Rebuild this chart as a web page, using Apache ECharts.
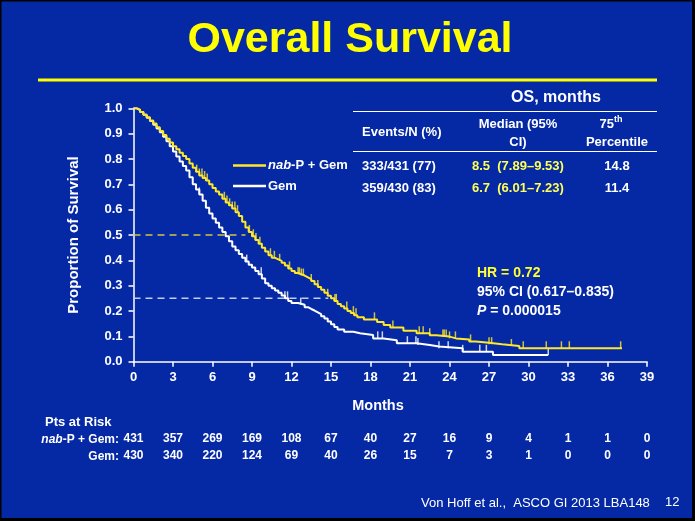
<!DOCTYPE html>
<html>
<head>
<meta charset="utf-8">
<script src="https://cdn.jsdelivr.net/npm/echarts@6/dist/echarts.min.js"></script>
<style>
html,body{margin:0;padding:0;background:#000;}
#c{width:695px;height:521px;}
</style>
</head>
<body>
<div id="c"></div>
<script>
// ---- data ----
const nabTimes = [0,0.25,0.5,0.75,1.0,1.25,1.5,1.75,2.0,2.25,2.5,2.75,3.0,3.25,3.5,3.75,4.0,4.25,4.5,4.75,5.0,5.25,5.5,5.75,6.0,6.25,6.5,6.75,7.0,7.25,7.5,7.75,8.0,8.25,8.5,8.75,9.0,9.25,9.5,9.75,10.0,10.25,10.5,10.75,11.0,11.25,11.5,11.75,12.0,12.25,12.5,12.75,13.0,13.25,13.5,13.75,14.0,14.25,14.5,14.75,15.0,15.25,15.5,15.75,16.0,16.25,16.5,16.75,17.0,17.5,18.5,19.0,19.5,20.5,21.5,22.5,23.0,24.0,24.5,25.5,26.0,27.0,28.0,29.3,37.1];
const nabSurv  = [1.0,0.995,0.985,0.975,0.965,0.952,0.94,0.925,0.91,0.895,0.88,0.865,0.85,0.838,0.825,0.812,0.80,0.782,0.765,0.75,0.735,0.725,0.715,0.70,0.685,0.672,0.66,0.643,0.628,0.617,0.605,0.59,0.575,0.552,0.53,0.512,0.495,0.48,0.465,0.45,0.435,0.42,0.41,0.404,0.398,0.39,0.38,0.368,0.358,0.35,0.345,0.34,0.333,0.326,0.318,0.306,0.295,0.284,0.272,0.26,0.25,0.24,0.228,0.219,0.21,0.20,0.192,0.183,0.175,0.167,0.157,0.145,0.135,0.122,0.112,0.104,0.099,0.092,0.088,0.08,0.075,0.069,0.062,0.053,0.053];
const gemTimes = [0,0.25,0.5,0.75,1.0,1.25,1.5,1.75,2.0,2.25,2.5,2.75,3.0,3.25,3.5,3.75,4.0,4.25,4.5,4.75,5.0,5.25,5.5,5.75,6.0,6.25,6.5,6.75,7.0,7.25,7.5,7.75,8.0,8.25,8.5,8.75,9.0,9.25,9.5,9.75,10.0,10.25,10.5,10.75,11.0,11.25,11.5,11.75,12.0,12.5,13.0,13.25,13.5,13.75,14.0,14.25,14.5,14.75,15.0,15.25,15.5,16.0,16.7,17.2,18.2,19.0,20.0,21.5,22.5,23.2,25.0,27.3,31.5];
const gemSurv  = [1.0,0.993,0.985,0.975,0.963,0.95,0.935,0.92,0.905,0.888,0.87,0.85,0.83,0.81,0.79,0.772,0.755,0.728,0.70,0.68,0.66,0.635,0.608,0.585,0.565,0.548,0.53,0.512,0.495,0.475,0.455,0.44,0.425,0.41,0.395,0.383,0.372,0.358,0.345,0.328,0.31,0.30,0.29,0.281,0.272,0.261,0.25,0.24,0.232,0.225,0.215,0.208,0.202,0.195,0.188,0.179,0.17,0.159,0.148,0.137,0.127,0.118,0.112,0.105,0.092,0.085,0.073,0.066,0.06,0.053,0.039,0.026,0.026];
const nabCensor = [4.8,5.0,5.2,5.4,5.6,6.9,7.1,7.3,7.5,7.7,7.9,8.8,9.1,9.3,9.6,10.4,10.7,11.1,11.85,12.5,12.6,12.75,12.9,13.5,14.0,14.75,15.3,15.4,16.2,16.7,16.9,18.3,19.7,21.7,22.0,22.5,23.5,23.6,23.75,24.0,24.45,25.6,27.0,27.2,28.7,29.6,31.35,32.5,33.1,37.0];
const gemCensor = [5.0,8.6,9.7,11.5,11.7,12.7,18.55,18.9,20.8,21.45,21.6,23.2,23.9,25.0,26.3,26.8,31.5];
const riskNab = [431,357,269,169,108,67,40,27,16,9,4,1,1,0];
const riskGem = [430,340,220,124,69,40,26,15,7,3,1,0,0,0];
const medianNab = 8.5;      // time at 0.5 survival
const p75Nab = 14.8;        // time at 0.25 survival
const xTickStep = 3, xMax = 39;

// ---- helpers ----
const F = '"Liberation Sans", Arial, sans-serif';
const BG = '#0529a5';
const YEL = '#ffe829';
function pairs(t, v){ return t.map((x,i)=>[x, v[i]]); }
function stepAt(times, surv, t){ let v = surv[0]; for (let i=0;i<times.length;i++){ if (times[i] <= t) v = surv[i]; } return v; }

const chart = echarts.init(document.getElementById('c'), null, {renderer:'canvas'});

function hiddenAxisGrid(idx){
  return {gridIndex: idx, type:'value', min:0, max:1, show:false};
}
function riskXAxis(idx, arr){
  return {gridIndex: idx, type:'value', min:0, max:xMax, interval:xTickStep,
    axisLine:{show:false}, axisTick:{show:false}, splitLine:{show:false},
    axisLabel:{show:true, margin:0, color:'#fff', fontFamily:F, fontWeight:'bold', fontSize:12,
      showMinLabel:true, showMaxLabel:true,
      formatter: v => String(arr[Math.round(v / xTickStep)])}};
}

const txt = (x,y,text,opt={}) => ({type:'text', silent:true, style:Object.assign({
  x, y, text, fill:'#fff', font:'bold 13px '+F, textAlign:'left', textVerticalAlign:'middle'}, opt)});

const option = {
  backgroundColor: BG,
  animation: false,
  grid: [
    {left:133.5, right:48, top:108.3, bottom:159.3},
    {left:133.5, right:48, top:432, height:1},
    {left:133.5, right:48, top:449, height:1}
  ],
  xAxis: [
    {gridIndex:0, type:'value', min:0, max:xMax, interval:xTickStep,
     axisLine:{show:true, onZero:false, lineStyle:{color:'#fff', width:1.5}},
     axisTick:{show:true, inside:false, length:5, lineStyle:{color:'#fff', width:1.5}},
     splitLine:{show:false},
     axisLabel:{color:'#fff', fontFamily:F, fontWeight:'bold', fontSize:13, margin:9, showMinLabel:true, showMaxLabel:true}},
    riskXAxis(1, riskNab),
    riskXAxis(2, riskGem)
  ],
  yAxis: [
    {gridIndex:0, type:'value', min:0, max:1, interval:0.1,
     name:'Proportion of Survival', nameLocation:'middle', nameGap:52,
     nameTextStyle:{color:'#fff', fontFamily:F, fontWeight:'bold', fontSize:15},
     axisLine:{show:true, lineStyle:{color:'#fff', width:1.5}},
     axisTick:{show:true, length:5, lineStyle:{color:'#fff', width:1.5}},
     splitLine:{show:false},
     axisLabel:{color:'#fff', fontFamily:F, fontWeight:'bold', fontSize:13, margin:11, formatter: v => v.toFixed(1)}},
    hiddenAxisGrid(1),
    hiddenAxisGrid(2)
  ],
  series: [
    {type:'line', name:'medianRef', xAxisIndex:0, yAxisIndex:0, data:[[0,0.5],[medianNab,0.5]],
     symbol:'none', lineStyle:{color:'#cfc83c', width:1.5, type:[7,5]}, z:1},
    {type:'line', name:'p75Ref', xAxisIndex:0, yAxisIndex:0, data:[[0,0.25],[p75Nab,0.25]],
     symbol:'none', lineStyle:{color:'#c5cce6', width:1.5, type:[7,5]}, z:1},
    {type:'line', name:'Gem', step:'end', data:pairs(gemTimes, gemSurv), symbol:'none',
     lineStyle:{color:'#ffffff', width:2}, z:3},
    {type:'line', name:'nab-P + Gem', step:'end', data:pairs(nabTimes, nabSurv), symbol:'none',
     lineStyle:{color:YEL, width:2}, z:4},
    {type:'scatter', name:'gemCensor', data: gemCensor.map(t=>[t, stepAt(gemTimes, gemSurv, t)]),
     symbol:'rect', symbolSize:[1.5,7], symbolOffset:[0,'-50%'], itemStyle:{color:'#ffffff'}, z:3},
    {type:'scatter', name:'nabCensor', data: nabCensor.map(t=>[t, stepAt(nabTimes, nabSurv, t)]),
     symbol:'rect', symbolSize:[1.5,7], symbolOffset:[0,'-50%'], itemStyle:{color:YEL}, z:4}
  ],
  graphic: [
    // title
    txt(350, 40, 'Overall Survival', {fill:'#ffff00', font:'bold 43px '+F, textAlign:'center'}),
    {type:'line', silent:true, shape:{x1:38, y1:80, x2:657, y2:80}, style:{stroke:'#ffff00', lineWidth:3}},
    // table
    txt(556, 98, 'OS, months', {font:'bold 16px '+F, textAlign:'center'}),
    {type:'line', silent:true, shape:{x1:353, y1:111.5, x2:657, y2:111.5}, style:{stroke:'#fff', lineWidth:1}},
    txt(362, 132, 'Events/N (%)'),
    txt(518, 124, 'Median (95%', {textAlign:'center'}),
    txt(518, 142, 'CI)', {textAlign:'center'}),
    txt(614, 124, '75', {textAlign:'right'}),
    txt(614, 120, 'th', {font:'bold 9px '+F}),
    txt(617, 142, 'Percentile', {textAlign:'center'}),
    {type:'line', silent:true, shape:{x1:353, y1:151.5, x2:657, y2:151.5}, style:{stroke:'#fff', lineWidth:1}},
    txt(362, 166, '333/431 (77)'),
    txt(472, 166, '8.5  (7.89\u20139.53)', {fill:'#ffff55'}),
    txt(617, 166, '14.8', {textAlign:'center'}),
    txt(362, 188, '359/430 (83)'),
    txt(472, 188, '6.7  (6.01\u20137.23)', {fill:'#ffff55'}),
    txt(617, 188, '11.4', {textAlign:'center'}),
    // legend
    {type:'line', silent:true, shape:{x1:233, y1:165.5, x2:266, y2:165.5}, style:{stroke:YEL, lineWidth:2.5}},
    {type:'line', silent:true, shape:{x1:233, y1:186, x2:266, y2:186}, style:{stroke:'#fff', lineWidth:2.5}},
    {type:'text', silent:true, style:{x:268, y:165, text:'{i|nab}{n|-P + Gem}', textVerticalAlign:'middle',
      rich:{i:{fill:'#fff', fontFamily:F, fontWeight:'bold', fontStyle:'italic', fontSize:13},
            n:{fill:'#fff', fontFamily:F, fontWeight:'bold', fontSize:13}}}},
    txt(268, 186, 'Gem'),
    // HR
    txt(477, 273, 'HR = 0.72', {fill:'#ffff33', font:'bold 14px '+F}),
    txt(477, 292, '95% CI (0.617\u20130.835)', {font:'bold 14px '+F}),
    {type:'text', silent:true, style:{x:477, y:311, text:'{i|P}{n| = 0.000015}', textVerticalAlign:'middle',
      rich:{i:{fill:'#fff', fontFamily:F, fontWeight:'bold', fontStyle:'italic', fontSize:14},
            n:{fill:'#fff', fontFamily:F, fontWeight:'bold', fontSize:14}}}},
    // x axis title
    txt(378, 406, 'Months', {font:'bold 14.5px '+F, textAlign:'center'}),
    // risk table labels
    txt(45, 422, 'Pts at Risk', {font:'bold 13px '+F}),
    {type:'text', silent:true, style:{x:119, y:439.5, text:'{i|nab}{n|-P + Gem:}', textAlign:'right', textVerticalAlign:'middle',
      rich:{i:{fill:'#fff', fontFamily:F, fontWeight:'bold', fontStyle:'italic', fontSize:12},
            n:{fill:'#fff', fontFamily:F, fontWeight:'bold', fontSize:12}}}},
    txt(119, 456.5, 'Gem:', {font:'bold 12px '+F, textAlign:'right'}),
    // footer
    txt(421, 503, 'Von Hoff et al.,  ASCO GI 2013 LBA148', {font:'13px '+F}),
    txt(665, 502, '12', {font:'13px '+F}),
    // frame
    {type:'rect', silent:true, shape:{x:0, y:0, width:695, height:521}, style:{fill:'none', stroke:'#000', lineWidth:3}},
    {type:'rect', silent:true, shape:{x:692, y:0, width:3, height:521}, style:{fill:'#000'}},
    {type:'rect', silent:true, shape:{x:0, y:518, width:695, height:3}, style:{fill:'#000'}}
  ]
};
chart.setOption(option);
</script>
</body>
</html>
